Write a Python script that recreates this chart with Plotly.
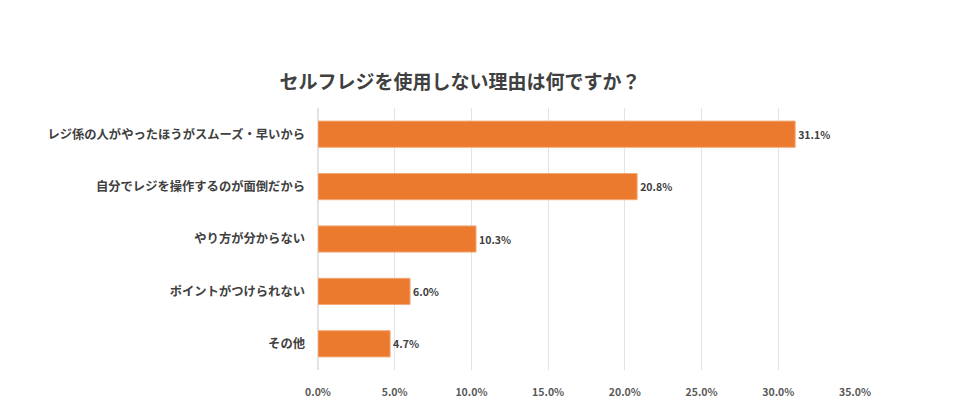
import plotly.graph_objects as go

categories = ["レジ係の人がやったほうがスムーズ・早いから", "自分でレジを操作するのが面倒だから",
              "やり方が分からない", "ポイントがつけられない", "その他"]
values = [31.1, 20.8, 10.3, 6.0, 4.7]
tick_vals = [0, 5, 10, 15, 20, 25, 30, 35]
tick_text = ["0.0%", "5.0%", "10.0%", "15.0%", "20.0%", "25.0%", "30.0%", "35.0%"]

font_family = "Noto Sans CJK JP, Noto Sans, sans-serif"

fig = go.Figure(go.Bar(
    x=values, y=categories, orientation="h",
    marker=dict(color="#EC7A2E", line=dict(color="#F3AA78", width=1)),
    text=[f"{v:.1f}%" for v in values], textposition="outside",
    textfont=dict(size=10.5, color="#404040", family=font_family, weight="bold"),
    cliponaxis=False,
))

# the page body has an 8px default margin; margins below compensate for it
fig.update_layout(
    width=956, height=397,
    margin=dict(l=310, r=109, t=100, b=35, autoexpand=False),
    paper_bgcolor="white", plot_bgcolor="white",
    bargap=0.5,
    showlegend=False,
    title=dict(text="<b>セルフレジを使用しない理由は何ですか？</b>", x=452/956, xanchor="center",
               xref="container",
               y=1 - 74/397, yanchor="middle",
               font=dict(size=19, color="#404040", family=font_family)),
    font=dict(family=font_family),
)
fig.update_xaxes(range=[0, 35], tickvals=tick_vals, ticktext=tick_text,
                 showgrid=True, gridcolor="#e3e3e3", gridwidth=1,
                 zeroline=True, zerolinecolor="#e3e3e3",
                 showline=False, ticks="", ticklabelstandoff=14, automargin=False,
                 tickfont=dict(size=10.5, color="#595959", weight="bold"))
fig.update_yaxes(autorange="reversed", showgrid=False, showline=False, ticks="",
                 ticklabelstandoff=12, automargin=False,
                 tickfont=dict(size=12.3, color="#404040", weight="bold"))

fig.write_html("out.html")
